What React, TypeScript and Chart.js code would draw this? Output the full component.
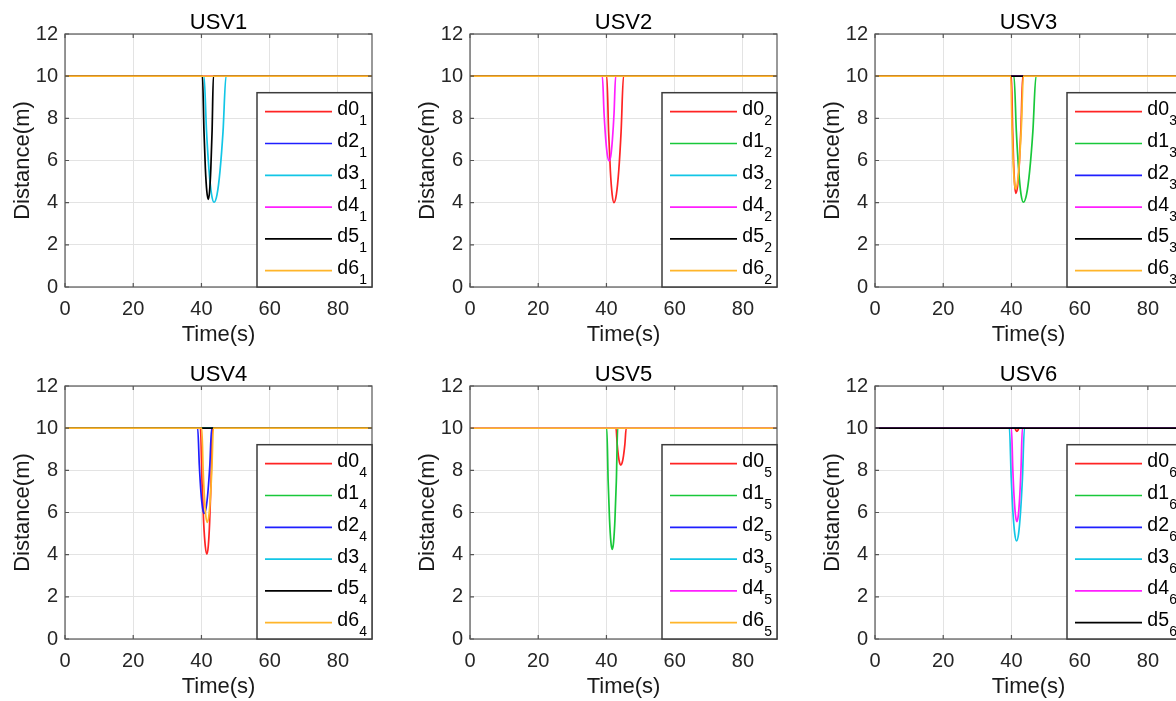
import React, { useEffect, useRef } from "react";
import { Chart, registerables } from "chart.js";

Chart.register(...registerables);

type Pt = [number, number];

// ---------- axes ----------
const X_TICKS = [0, 20, 40, 60, 80];
const Y_TICKS = [0, 2, 4, 6, 8, 10, 12];
const X_MIN = 0;
const X_MAX = 90;
const Y_MIN = 0;
const Y_MAX = 12;
const X_LABEL = "Time(s)";
const Y_LABEL = "Distance(m)";

// ---------- series data (time s, distance m) ----------
const FLAT: Pt[] = [[0, 10], [90, 10]];

// USV1
const usv1_d0: Pt[] = FLAT;
const usv1_d2: Pt[] = FLAT;
const usv1_d3: Pt[] = [[0, 10], [40.75, 10], [41.49, 7.38], [42.23, 5.52], [42.96, 4.39], [43.7, 4.02], [44.58, 4.39], [45.45, 5.52], [46.33, 7.38], [47.2, 10], [90, 10]];
const usv1_d4: Pt[] = FLAT;
const usv1_d5: Pt[] = [[0, 10], [40.3, 10], [40.73, 7.45], [41.15, 5.62], [41.58, 4.53], [42.0, 4.16], [42.38, 4.53], [42.75, 5.62], [43.13, 7.45], [43.5, 10], [90, 10]];
const usv1_d6: Pt[] = FLAT;

// USV2
const usv2_d0: Pt[] = [[0, 10], [40.1, 10], [40.63, 7.38], [41.15, 5.5], [41.68, 4.38], [42.2, 4.0], [42.9, 4.38], [43.6, 5.5], [44.3, 7.38], [45.0, 10], [90, 10]];
const usv2_d1: Pt[] = FLAT;
const usv2_d3: Pt[] = FLAT;
const usv2_d4: Pt[] = [[0, 10], [38.8, 10], [39.3, 8.24], [39.8, 6.99], [40.3, 6.23], [40.8, 5.98], [41.28, 6.23], [41.75, 6.99], [42.23, 8.24], [42.7, 10], [90, 10]];
const usv2_d5: Pt[] = FLAT;
const usv2_d6: Pt[] = FLAT;

// USV3
const usv3_d0: Pt[] = [[0, 10], [40.0, 10], [40.33, 7.57], [40.65, 5.83], [40.98, 4.79], [41.3, 4.44], [41.8, 4.79], [42.3, 5.83], [42.8, 7.57], [43.3, 10], [90, 10]];
const usv3_d1: Pt[] = [[0, 10], [40.75, 10], [41.44, 7.38], [42.13, 5.52], [42.81, 4.39], [43.5, 4.02], [44.43, 4.39], [45.35, 5.52], [46.28, 7.38], [47.2, 10], [90, 10]];
const usv3_d2: Pt[] = FLAT;
const usv3_d4: Pt[] = FLAT;
const usv3_d5: Pt[] = FLAT;
const usv3_d6: Pt[] = [[0, 10], [39.8, 10], [40.15, 7.66], [40.5, 5.99], [40.85, 4.98], [41.2, 4.65], [41.78, 4.98], [42.35, 5.99], [42.93, 7.66], [43.5, 10], [90, 10]];

// USV4
const usv4_d0: Pt[] = [[0, 10], [39.7, 10], [40.18, 7.39], [40.65, 5.52], [41.13, 4.4], [41.6, 4.03], [42.0, 4.4], [42.4, 5.52], [42.8, 7.39], [43.2, 10], [90, 10]];
const usv4_d1: Pt[] = FLAT;
const usv4_d2: Pt[] = [[0, 10], [38.9, 10], [39.38, 8.23], [39.85, 6.97], [40.33, 6.21], [40.8, 5.96], [41.35, 6.21], [41.9, 6.97], [42.45, 8.23], [43.0, 10], [90, 10]];
const usv4_d3: Pt[] = FLAT;
const usv4_d5: Pt[] = FLAT;
const usv4_d6: Pt[] = [[0, 10], [40.1, 10], [40.5, 8.04], [40.9, 6.65], [41.3, 5.81], [41.7, 5.53], [42.15, 5.81], [42.6, 6.65], [43.05, 8.04], [43.5, 10], [90, 10]];

// USV5
const usv5_d0: Pt[] = [[0, 10], [42.8, 10], [43.15, 9.23], [43.5, 8.69], [43.85, 8.36], [44.2, 8.25], [44.6, 8.36], [45.0, 8.69], [45.4, 9.23], [45.8, 10], [90, 10]];
const usv5_d1: Pt[] = [[0, 10], [40.1, 10], [40.5, 7.48], [40.9, 5.69], [41.3, 4.61], [41.7, 4.25], [42.1, 4.61], [42.5, 5.69], [42.9, 7.48], [43.3, 10], [90, 10]];
const usv5_d2: Pt[] = FLAT;
const usv5_d3: Pt[] = FLAT;
const usv5_d4: Pt[] = FLAT;
const usv5_d6: Pt[] = FLAT;

// USV6
const usv6_d0: Pt[] = [[0, 10], [41.0, 10], [41.3, 9.9], [41.6, 9.85], [41.9, 9.9], [42.2, 10], [90, 10]];
const usv6_d1: Pt[] = FLAT;
const usv6_d2: Pt[] = FLAT;
const usv6_d3: Pt[] = [[0, 10], [39.4, 10], [39.93, 7.66], [40.45, 5.99], [40.98, 4.98], [41.5, 4.65], [42.08, 4.98], [42.65, 5.99], [43.23, 7.66], [43.8, 10], [90, 10]];
const usv6_d4: Pt[] = [[0, 10], [40.0, 10], [40.4, 8.06], [40.8, 6.68], [41.2, 5.85], [41.6, 5.57], [42.0, 5.85], [42.4, 6.68], [42.8, 8.06], [43.2, 10], [90, 10]];
const usv6_d5: Pt[] = FLAT;

// ---------- subplot definitions ----------
const TITLES = ["USV1", "USV2", "USV3", "USV4", "USV5", "USV6"];
const SUBSCRIPTS = ["1", "2", "3", "4", "5", "6"];
const NAMES: string[][] = [
  ["d0", "d2", "d3", "d4", "d5", "d6"],
  ["d0", "d1", "d3", "d4", "d5", "d6"],
  ["d0", "d1", "d2", "d4", "d5", "d6"],
  ["d0", "d1", "d2", "d3", "d5", "d6"],
  ["d0", "d1", "d2", "d3", "d4", "d6"],
  ["d0", "d1", "d2", "d3", "d4", "d5"],
];
const SERIES: Pt[][][] = [
  [usv1_d0, usv1_d2, usv1_d3, usv1_d4, usv1_d5, usv1_d6],
  [usv2_d0, usv2_d1, usv2_d3, usv2_d4, usv2_d5, usv2_d6],
  [usv3_d0, usv3_d1, usv3_d2, usv3_d4, usv3_d5, usv3_d6],
  [usv4_d0, usv4_d1, usv4_d2, usv4_d3, usv4_d5, usv4_d6],
  [usv5_d0, usv5_d1, usv5_d2, usv5_d3, usv5_d4, usv5_d6],
  [usv6_d0, usv6_d1, usv6_d2, usv6_d3, usv6_d4, usv6_d5],
];

// ---------- styles ----------
const COLORS: Record<string, string> = {
  d0: "#ff2424",
  d1: "#18c83a",
  d2: "#1f1fff",
  d3: "#12c6e6",
  d4: "#ff1fff",
  d5: "#000000",
  d6: "#ffb52a",
};
const FONT = '"Liberation Sans", Arial, Helvetica, sans-serif';
const FRAME = "#555555";
const GRID = "#e3e3e3";
const TEXT = "#262626";

// layout (pixels)
const COL_LEFT = [65, 470, 875];
const ROW_TOP = [34, 386];
const CANVAS_W = 400;
const CANVAS_H = 350;
const AXIS_W = 65;
const AXIS_H = 63;
const PAD_RIGHT = 28;

type SubProps = { idx: number; left: number; top: number };

function Subplot({ idx, left, top }: SubProps) {
  const ref = useRef<HTMLCanvasElement | null>(null);

  useEffect(() => {
    if (!ref.current) return;
    const names = NAMES[idx];
    const sub = SUBSCRIPTS[idx];
    const datasets = SERIES[idx].map((pts, i) => ({
      label: names[i] + "_" + sub,
      data: pts.map(([x, y]) => ({ x, y })),
      borderColor: COLORS[names[i]],
      backgroundColor: COLORS[names[i]],
      borderWidth: 1.7,
      pointRadius: 0,
      fill: false,
      cubicInterpolationMode: "monotone" as const,
      order: 10 - i,
    }));

    const framePlugin = {
      id: "matlabFrame",
      afterDatasetsDraw(chart: any) {
        const { ctx, chartArea: a, scales } = chart;
        ctx.save();
        // axes box
        ctx.strokeStyle = FRAME;
        ctx.lineWidth = 1.2;
        ctx.strokeRect(a.left, a.top, a.right - a.left, a.bottom - a.top);
        // inner tick marks
        ctx.beginPath();
        X_TICKS.forEach((v) => {
          const x = scales.x.getPixelForValue(v);
          ctx.moveTo(x, a.bottom);
          ctx.lineTo(x, a.bottom - 4);
          ctx.moveTo(x, a.top);
          ctx.lineTo(x, a.top + 4);
        });
        Y_TICKS.forEach((v) => {
          const y = scales.y.getPixelForValue(v);
          ctx.moveTo(a.left, y);
          ctx.lineTo(a.left + 4, y);
          ctx.moveTo(a.right, y);
          ctx.lineTo(a.right - 4, y);
        });
        ctx.stroke();

        // legend box
        const bx = a.left + 192;
        const by = a.top + 58.7;
        const bw = a.right - bx;
        const bh = a.bottom - by;
        ctx.fillStyle = "#ffffff";
        ctx.fillRect(bx, by, bw, bh);
        ctx.strokeStyle = "#3c3c3c";
        ctx.lineWidth = 1.5;
        ctx.strokeRect(bx, by, bw, bh);

        names.forEach((n, i) => {
          const ry = a.top + 77.7 + i * 31.8;
          ctx.strokeStyle = COLORS[n];
          ctx.lineWidth = 1.7;
          ctx.beginPath();
          ctx.moveTo(a.left + 200, ry);
          ctx.lineTo(a.left + 267, ry);
          ctx.stroke();
          ctx.fillStyle = "#000000";
          ctx.textAlign = "left";
          ctx.textBaseline = "alphabetic";
          ctx.font = `19.5px ${FONT}`;
          const tx = a.left + 272.3;
          ctx.fillText(n, tx, ry + 3.5);
          const w = ctx.measureText(n).width;
          ctx.font = `14px ${FONT}`;
          ctx.fillText(sub, tx + w + 0.3, ry + 13.5);
        });
        ctx.restore();
      },
    };

    const chart = new Chart(ref.current, {
      type: "line",
      data: { datasets },
      options: {
        responsive: false,
        animation: false,
        events: [],
        layout: { padding: { left: 0, right: PAD_RIGHT, top: 0, bottom: 0 }, autoPadding: false },
        plugins: {
          legend: { display: false },
          tooltip: { enabled: false },
          title: {
            display: true,
            text: TITLES[idx],
            fullSize: false,
            color: "#000000",
            font: { family: FONT, size: 22, weight: "normal", lineHeight: 1 },
            padding: { top: 12, bottom: 0 },
          },
        },
        scales: {
          x: {
            type: "linear",
            min: X_MIN,
            max: X_MAX,
            afterFit: (s: any) => {
              s.height = AXIS_H;
            },
            afterBuildTicks: (s: any) => {
              s.ticks = X_TICKS.map((v) => ({ value: v }));
            },
            ticks: {
              color: TEXT,
              font: { family: FONT, size: 20 },
              padding: 10.5,
              maxRotation: 0,
              autoSkip: false,
            },
            grid: { color: GRID, drawTicks: false, lineWidth: 1 },
            border: { display: false },
            title: {
              display: true,
              text: X_LABEL,
              color: "#1a1a1a",
              font: { family: FONT, size: 22 },
              padding: { top: 0, bottom: 2 },
            },
          },
          y: {
            type: "linear",
            min: Y_MIN,
            max: Y_MAX,
            afterFit: (s: any) => {
              s.width = AXIS_W;
            },
            afterBuildTicks: (s: any) => {
              s.ticks = Y_TICKS.map((v) => ({ value: v }));
            },
            ticks: {
              color: TEXT,
              font: { family: FONT, size: 20 },
              padding: 7,
              autoSkip: false,
            },
            grid: { color: GRID, drawTicks: false, lineWidth: 1 },
            border: { display: false },
            title: {
              display: true,
              text: Y_LABEL,
              color: "#1a1a1a",
              font: { family: FONT, size: 22 },
              padding: { top: 9.5, bottom: 0 },
            },
          },
        },
      } as any,
      plugins: [framePlugin],
    });
    return () => chart.destroy();
  }, [idx]);

  return (
    <canvas
      ref={ref}
      width={CANVAS_W}
      height={CANVAS_H}
      style={{ position: "absolute", left, top, width: CANVAS_W, height: CANVAS_H }}
    />
  );
}

export default function App() {
  return (
    <div
      style={{
        position: "absolute",
        left: 0,
        top: 0,
        width: 1176,
        height: 701,
        overflow: "hidden",
        background: "#ffffff",
      }}
    >
      {TITLES.map((_, i) => (
        <Subplot
          key={i}
          idx={i}
          left={COL_LEFT[i % 3] - AXIS_W}
          top={ROW_TOP[Math.floor(i / 3)] - 34}
        />
      ))}
    </div>
  );
}
